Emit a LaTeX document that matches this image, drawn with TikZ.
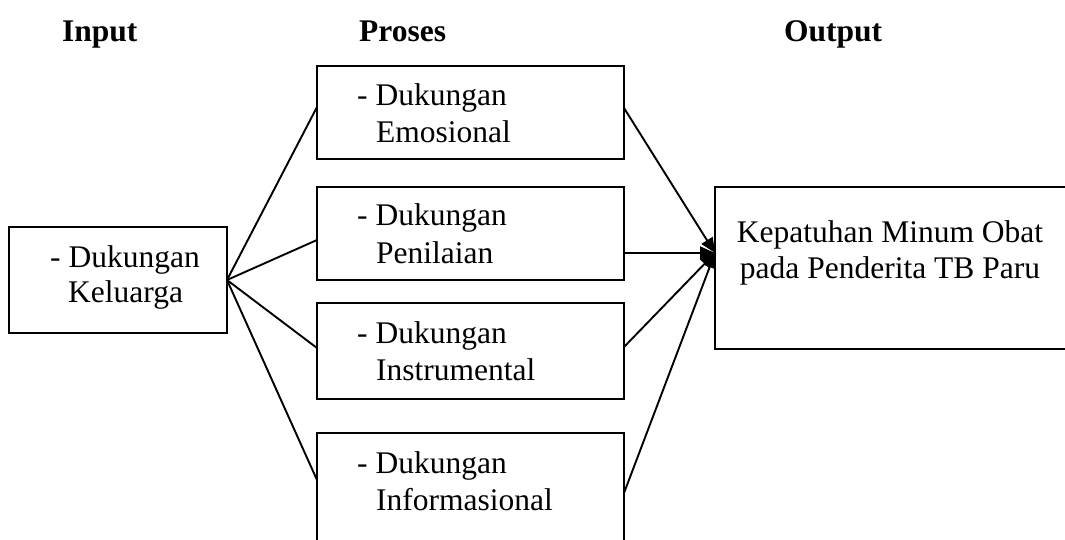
\documentclass[tikz,border=0pt]{standalone}
\usepackage{fontspec}
\setmainfont{Liberation Serif}
\usetikzlibrary{arrows.meta}
\begin{document}
\begin{tikzpicture}[x=1pt,y=-1pt,
  box/.style={draw, line width=1.9pt, rectangle, inner sep=0pt, outer sep=0pt},
  txt/.style={anchor=base west, inner sep=0pt, font=\fontsize{31.5}{37}\selectfont},
  ttl/.style={anchor=base west, inner sep=0pt, font=\fontsize{31.5}{37}\selectfont\bfseries},
  conn/.style={line width=1.9pt},
  arr/.style={line width=1.9pt, -{Triangle[length=15pt,width=13pt]}}]
\useasboundingbox (0,0) rectangle (1065,539);
\clip (0,0) rectangle (1065,539);
% titles
\node[ttl] (tin) at (62,41) {Input};
\node[ttl] (tpr) at (359,41) {Proses};
\node[ttl] (tout) at (784,41) {Output};
% boxes
\node[box, minimum width=218pt, minimum height=106pt] (in) at (118,280) {};
\node[box, minimum width=307pt, minimum height=93pt] (b1) at (470.5,112.5) {};
\node[box, minimum width=307pt, minimum height=93pt] (b2) at (470.5,233.5) {};
\node[box, minimum width=307pt, minimum height=96pt] (b3) at (470.5,351) {};
\node[box, minimum width=307pt, minimum height=110pt] (b4) at (470.5,488) {};
\node[box, minimum width=360pt, minimum height=162pt] (out) at (895,268) {};
% texts
\node[txt] (ina) at (50,267) {- Dukungan};
\node[txt] (inb) at (68,302) {Keluarga};
\node[txt] (b1a) at (357,105) {- Dukungan};
\node[txt] (b1b) at (376,142) {Emosional};
\node[txt] (b2a) at (357,225) {- Dukungan};
\node[txt] (b2b) at (376,263) {Penilaian};
\node[txt] (b3a) at (357,343) {- Dukungan};
\node[txt] (b3b) at (376,380) {Instrumental};
\node[txt] (b4a) at (357,473) {- Dukungan};
\node[txt] (b4b) at (376,510) {Informasional};
\node[txt, anchor=base] (outa) at (890,242) {Kepatuhan Minum Obat};
\node[txt, anchor=base] (outb) at (890,278) {pada Penderita TB Paru};
% connectors
\coordinate (tip) at ([yshift=15pt]out.west);
\draw[conn] (in.east) -- ([yshift=5.5pt]b1.west);
\draw[conn] (in.east) -- ([yshift=-6.5pt]b2.west);
\draw[conn] (in.east) -- ([yshift=3pt]b3.west);
\draw[conn] (in.east) -- ([yshift=8pt]b4.west);
\draw[arr] ([yshift=4.5pt]b1.east) -- (tip);
\draw[arr] ([yshift=-19.5pt]b2.east) -- (tip);
\draw[arr] ([yshift=4pt]b3.east) -- (tip);
\draw[arr] ([yshift=-5pt]b4.east) -- (tip);
\end{tikzpicture}
\end{document}
